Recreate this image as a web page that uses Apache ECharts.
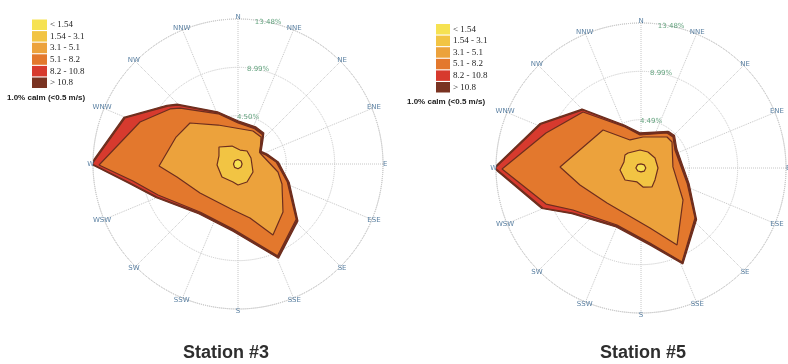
<!DOCTYPE html>
<html>
<head>
<meta charset="utf-8">
<script src="https://cdn.jsdelivr.net/npm/echarts@6/dist/echarts.min.js"></script>
<style>
  html, body { margin: 0; padding: 0; background: #ffffff; }
  #chart { width: 788px; height: 364px; }
</style>
</head>
<body>
<div id="chart"></div>
<script>
// Compass sectors, clockwise from north
const directions = ['N', 'NNE', 'NE', 'ENE', 'E', 'ESE', 'SE', 'SSE', 'S', 'SSW', 'SW', 'WSW', 'W', 'WNW', 'NW', 'NNW'];

// Frequency rings (%)
const ringValues = [4.49, 8.99, 13.48];
const ringLabels3 = ['4.50%', '8.99%', '13.48%'];
const ringLabels5 = ['4.49%', '8.99%', '13.48%'];

// Wind speed classes (m/s)
const speedBands = ['< 1.54', '1.54 - 3.1', '3.1 - 5.1', '5.1 - 8.2', '8.2 - 10.8', '> 10.8'];
const calmNote = '1.0% calm (<0.5 m/s)';
const stationNames = ['Station #3', 'Station #5'];

// Cumulative frequency outlines per class: [frequency %, direction in degrees]
// Station #3
const s3_lt154 = [[0.42, 0], [0.40, 45], [0.38, 90], [0.40, 135], [0.44, 180], [0.45, 225], [0.42, 270], [0.42, 315]];
const s3_154_31 = [[1.31, 8.1], [1.47, 34.7], [1.33, 65.2], [1.58, 118], [1.87, 153.4], [1.95, 180], [1.74, 195.5],
  [1.92, 230.9], [1.95, 267.3], [1.92, 292.8], [2.37, 311.8], [1.76, 341.6]];
const s3_31_51 = [[3.37, 24.4], [3.30, 40.4], [2.29, 63.4], [3.79, 101.3], [4.49, 114.4], [6.11, 136.8], [7.36, 153.8],
  [5.14, 167.5], [4.30, 186.2], [4.44, 232.7], [5.80, 258], [7.34, 268.5], [6.28, 293.5], [5.87, 310.5], [4.07, 332.9]];
const s3_51_82 = [[3.82, 0], [3.62, 25.3], [3.55, 39.8], [3.02, 46.2], [2.27, 61.4], [2.75, 72.8], [3.55, 87], [4.86, 109.8],
  [7.46, 133.5], [9.30, 156.7], [6.07, 184.3], [5.68, 217.8], [7.97, 248.8], [9.89, 260.8], [12.92, 269.6], [9.91, 293.2],
  [8.13, 309], [7.49, 314], [5.01, 338.6]];
const s3_82_108 = [[3.90, 0], [3.70, 25.3], [3.63, 39.8], [3.09, 46.2], [2.33, 61.4], [2.82, 72.8], [3.63, 87], [4.94, 109.8],
  [7.56, 133.5], [9.41, 156.7], [6.15, 184.3], [5.76, 217.8], [8.13, 247.8], [10.19, 260], [13.57, 270], [11.34, 292.2],
  [8.45, 309.6], [7.82, 314.5], [5.09, 338.6]];
const s3_gt108 = [[4.02, 0], [3.82, 25.3], [3.75, 39.8], [3.21, 46.2], [2.45, 61.4], [2.94, 72.8], [3.75, 87], [5.06, 109.8],
  [7.68, 133.5], [9.53, 156.7], [6.27, 184.3], [5.88, 217.8], [8.25, 247.8], [10.31, 260], [13.69, 270], [11.46, 292.2],
  [8.57, 309.6], [7.94, 314.5], [5.21, 338.6]];

// Station #5
const s5_lt154 = [[0.38, 0], [0.42, 45], [0.45, 90], [0.42, 135], [0.36, 180], [0.40, 225], [0.48, 270], [0.44, 315]];
const s5_154_31 = [[1.62, 23.6], [1.60, 54.5], [1.58, 90], [1.71, 130.6], [2.04, 150], [1.78, 174], [1.35, 196],
  [1.86, 233.1], [1.96, 264.6], [1.68, 289.4], [1.92, 309.1], [1.84, 319.1], [1.68, 356.8]];
const s5_31_51 = [[2.89, 3.7], [3.76, 40], [3.76, 50], [2.97, 88], [4.91, 127.3], [7.90, 154.9], [5.64, 171.5],
  [4.53, 224.2], [5.89, 254.4], [7.53, 270.7], [4.99, 315], [2.80, 338.6]];
const s5_51_82 = [[4.05, 36.6], [4.14, 45.9], [3.57, 62.1], [4.50, 108], [6.84, 132.8], [9.53, 156.4], [7.02, 173.2],
  [5.75, 202.8], [7.43, 238.3], [9.44, 249.2], [12.92, 269.6], [9.41, 290.2], [7.49, 314], [4.09, 338.7], [3.07, 358.3]];
const s5_82_108 = [[4.13, 36.6], [4.22, 45.9], [3.65, 62.1], [4.58, 108], [6.92, 132.8], [9.61, 156.4], [7.10, 173.2],
  [5.83, 202.8], [7.58, 236.5], [9.84, 247.8], [13.57, 270], [10.15, 293.7], [7.62, 315], [4.17, 338.7], [3.15, 358.3]];
const s5_gt108 = [[4.25, 36.6], [4.34, 45.9], [3.77, 62.1], [4.70, 108], [7.04, 132.8], [9.73, 156.4], [7.22, 173.2],
  [5.95, 202.8], [7.70, 236.5], [9.96, 247.8], [13.69, 270], [10.27, 293.7], [7.74, 315], [4.29, 338.7], [3.27, 358.3]];

const station3 = [s3_lt154, s3_154_31, s3_31_51, s3_51_82, s3_82_108, s3_gt108];
const station5 = [s5_lt154, s5_154_31, s5_31_51, s5_51_82, s5_82_108, s5_gt108];

// Styling
const bandColors = ['#f6e252', '#f2c443', '#eca23c', '#e3782d', '#d73a2e', '#7a3322'];
const outlineColor = '#6e2e1e';
const gridColor = '#c6c6c6';
const dirColor = '#2f5f8a';
const ringColor = '#3f8d60';
const rMax = 13.48;
const dirLabelRadius = rMax * 1.015;
const ringLabelAngle = 12;

const chart = echarts.init(document.getElementById('chart'), null, { renderer: 'canvas' });

function closed(pts) {
  return pts.concat([pts[0]]);
}

function roseSeries(stationBands, polarIndex) {
  const out = [];
  for (let i = stationBands.length - 1; i >= 0; i--) {
    out.push({
      type: 'line',
      name: speedBands[i],
      coordinateSystem: 'polar',
      polarIndex: polarIndex,
      data: closed(stationBands[i]),
      symbol: 'none',
      smooth: false,
      clip: false,
      silent: true,
      itemStyle: { color: bandColors[i] },
      lineStyle: { color: outlineColor, width: 1.2 },
      areaStyle: { color: bandColors[i], opacity: 1, origin: 'start' },
      z: 2
    });
  }
  return out;
}

function dirLabelSeries(polarIndex) {
  return {
    type: 'scatter',
    coordinateSystem: 'polar',
    polarIndex: polarIndex,
    data: directions.map((d, i) => [dirLabelRadius, i * 22.5]),
    symbolSize: 0.1,
    clip: false,
    silent: true,
    itemStyle: { color: 'rgba(0,0,0,0)' },
    label: {
      show: true,
      position: 'inside',
      formatter: (p) => directions[p.dataIndex],
      fontFamily: 'DejaVu Sans',
      fontSize: 7,
      color: dirColor
    },
    z: 5
  };
}

function ringLabelSeries(polarIndex, labels) {
  return {
    type: 'scatter',
    coordinateSystem: 'polar',
    polarIndex: polarIndex,
    data: ringValues.map(v => [v, ringLabelAngle]),
    symbolSize: 0.1,
    clip: false,
    silent: true,
    itemStyle: { color: 'rgba(0,0,0,0)' },
    label: {
      show: true,
      position: 'inside',
      formatter: (p) => labels[p.dataIndex],
      fontFamily: 'DejaVu Sans',
      fontSize: 7,
      color: ringColor
    },
    z: 5
  };
}

function angleAxis(polarIndex) {
  return {
    polarIndex: polarIndex,
    type: 'value',
    min: 0,
    max: 360,
    interval: 22.5,
    startAngle: 90,
    clockwise: true,
    axisLine: { show: true, lineStyle: { color: gridColor, type: 'dotted', width: 1 } },
    axisTick: { show: false },
    axisLabel: { show: false },
    splitLine: { show: true, lineStyle: { color: gridColor, type: 'dotted', width: 1 } },
    z: 1
  };
}

function radiusAxis(polarIndex) {
  return {
    polarIndex: polarIndex,
    type: 'value',
    min: 0,
    max: rMax,
    interval: rMax / 3,
    axisLine: { show: false },
    axisTick: { show: false },
    axisLabel: { show: false },
    splitLine: { show: true, lineStyle: { color: gridColor, type: 'dotted', width: 1 } },
    z: 1
  };
}

function legendFor(left, top, itemWidth) {
  return {
    orient: 'vertical',
    left: left,
    top: top,
    padding: 0,
    itemWidth: itemWidth,
    itemHeight: 10.5,
    itemGap: 1.1,
    icon: 'rect',
    selectedMode: false,
    data: speedBands.map((b, i) => ({ name: b, itemStyle: { color: bandColors[i], borderWidth: 0 } })),
    textStyle: { fontFamily: 'Liberation Serif', fontSize: 9, color: '#222', lineHeight: 10.5, padding: [0, 0, 0, -2] }
  };
}

const option = {
  animation: false,
  backgroundColor: '#ffffff',
  polar: [
    { center: [238, 164], radius: 145 },
    { center: [641, 168], radius: 145 }
  ],
  angleAxis: [angleAxis(0), angleAxis(1)],
  radiusAxis: [radiusAxis(0), radiusAxis(1)],
  legend: [legendFor(32, 19.5, 15), legendFor(436, 24, 14)],
  graphic: [
    { type: 'text', x: 7, y: 98, style: { text: calmNote, font: 'bold 8px "Liberation Sans"', fill: '#222', verticalAlign: 'middle' } },
    { type: 'text', x: 407, y: 101.5, style: { text: calmNote, font: 'bold 8px "Liberation Sans"', fill: '#222', verticalAlign: 'middle' } },
    { type: 'text', x: 226, y: 353, style: { text: stationNames[0], font: 'bold 18px "Liberation Sans"', fill: '#2e2e2e', align: 'center', verticalAlign: 'middle' } },
    { type: 'text', x: 643, y: 353, style: { text: stationNames[1], font: 'bold 18px "Liberation Sans"', fill: '#2e2e2e', align: 'center', verticalAlign: 'middle' } }
  ],
  series: [].concat(
    roseSeries(station3, 0),
    roseSeries(station5, 1),
    [dirLabelSeries(0), dirLabelSeries(1), ringLabelSeries(0, ringLabels3), ringLabelSeries(1, ringLabels5)]
  )
};

chart.setOption(option);
</script>
</body>
</html>
